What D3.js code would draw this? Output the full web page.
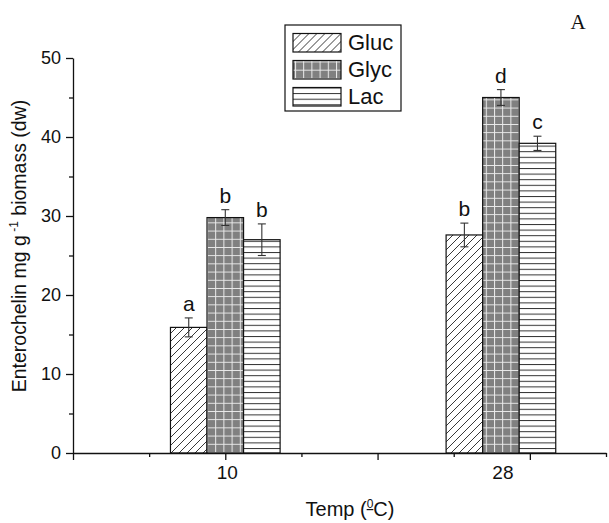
<!DOCTYPE html>
<html>
<head>
<meta charset="utf-8">
<script src="https://cdn.jsdelivr.net/npm/d3@7/dist/d3.min.js"></script>
<style>
  html, body { margin: 0; padding: 0; background: #fff; }
  svg { display: block; font-family: "Liberation Sans", Arial, sans-serif; }
</style>
</head>
<body>
<svg id="chart" width="609" height="523"></svg>
<script>
// ---- data ----
const categories = ["10", "28"];
const seriesNames = ["Gluc", "Glyc", "Lac"];
const glucValues = [15.9, 27.6];
const glycValues = [29.8, 45.0];
const lacValues = [27.0, 39.2];
const glucErrors = [1.2, 1.5];
const glycErrors = [1.0, 1.0];
const lacErrors = [2.0, 0.9];
const glucLetters = ["a", "b"];
const glycLetters = ["b", "d"];
const lacLetters = ["b", "c"];
const yTickValues = [0, 10, 20, 30, 40, 50];
const yMinorTickValues = [5, 15, 25, 35, 45];

// ---- build table ----
const valueSets = [glucValues, glycValues, lacValues];
const errorSets = [glucErrors, glycErrors, lacErrors];
const letterSets = [glucLetters, glycLetters, lacLetters];
const rows = [];
categories.forEach((c, ci) => {
  seriesNames.forEach((s, si) => {
    rows.push({ cat: c, ci, series: s, si, value: valueSets[si][ci], err: errorSets[si][ci], letter: letterSets[si][ci] });
  });
});

const svg = d3.select("#chart");
const FONT = "Liberation Sans, Arial, sans-serif";

// ---- patterns ----
const defs = svg.append("defs");
const pDiag = defs.append("pattern").attr("id", "pat-Gluc").attr("patternUnits", "userSpaceOnUse")
  .attr("width", 8).attr("height", 8);
pDiag.append("rect").attr("width", 8).attr("height", 8).attr("fill", "#fff");
pDiag.append("path").attr("d", "M-2,2 L2,-2 M0,8 L8,0 M6,10 L10,6")
  .attr("stroke", "#222").attr("stroke-width", 0.9).attr("fill", "none");

const pGrid = defs.append("pattern").attr("id", "pat-Glyc").attr("patternUnits", "userSpaceOnUse")
  .attr("width", 8.2).attr("height", 8.2).attr("x", 2).attr("y", 1);
pGrid.append("rect").attr("width", 8.2).attr("height", 8.2).attr("fill", "#808080");
pGrid.append("path").attr("d", "M0.5,0 V8.2 M0,0.5 H8.2")
  .attr("stroke", "#ececec").attr("stroke-width", 1).attr("fill", "none");

const pHor = defs.append("pattern").attr("id", "pat-Lac").attr("patternUnits", "userSpaceOnUse")
  .attr("width", 10).attr("height", 5.6);
pHor.append("rect").attr("width", 10).attr("height", 5.6).attr("fill", "#fff");
pHor.append("path").attr("d", "M0,0.5 H10")
  .attr("stroke", "#333").attr("stroke-width", 1).attr("fill", "none");

// ---- scales ----
const x = d3.scaleLinear().domain([0, 3.5]).range([73, 606]);
const catPos = d3.scaleOrdinal().domain(categories).range([1.0, 2.81]);
const y = d3.scaleLinear().domain([0, 50]).range([453, 58]);
const barW = 0.24;
const sub = d3.scaleBand().domain(seriesNames).range([-1.5 * barW, 1.5 * barW]);

// ---- bars ----
const g = svg.append("g");
g.selectAll("rect.bar").data(rows).join("rect")
  .attr("class", "bar")
  .attr("x", d => x(catPos(d.cat) + sub(d.series)))
  .attr("width", d => x(catPos(d.cat) + sub(d.series) + sub.bandwidth()) - x(catPos(d.cat) + sub(d.series)))
  .attr("y", d => y(d.value))
  .attr("height", d => y(0) - y(d.value))
  .attr("fill", d => `url(#pat-${d.series})`)
  .attr("stroke", "#111").attr("stroke-width", 1.2);

// ---- error bars ----
const cx = d => x(catPos(d.cat) + sub(d.series) + sub.bandwidth() / 2);
const eb = g.selectAll("g.err").data(rows).join("g").attr("class", "err")
  .attr("stroke", "#333").attr("stroke-width", 1.1);
eb.append("line").attr("x1", cx).attr("x2", cx)
  .attr("y1", d => y(d.value + d.err)).attr("y2", d => y(d.value - d.err));
eb.append("line").attr("x1", d => cx(d) - 4).attr("x2", d => cx(d) + 4)
  .attr("y1", d => y(d.value + d.err)).attr("y2", d => y(d.value + d.err));
eb.append("line").attr("x1", d => cx(d) - 4).attr("x2", d => cx(d) + 4)
  .attr("y1", d => y(d.value - d.err)).attr("y2", d => y(d.value - d.err));

// ---- letters ----
g.selectAll("text.letter").data(rows).join("text")
  .attr("class", "letter")
  .attr("x", cx)
  .attr("y", d => y(d.value + d.err) - 7)
  .attr("text-anchor", "middle")
  .attr("font-size", 21)
  .attr("fill", "#111")
  .text(d => d.letter);

// ---- axes ----
const yAxis = svg.append("g").attr("transform", `translate(${x(0)},0)`)
  .call(d3.axisLeft(y).tickValues(yTickValues).tickSize(7).tickSizeOuter(0).tickPadding(5));
svg.append("g").attr("transform", `translate(${x(0)},0)`)
  .call(d3.axisLeft(y).tickValues(yMinorTickValues).tickSize(4).tickSizeOuter(0).tickFormat(""))
  .select(".domain").remove();
yAxis.selectAll("text").attr("font-size", 18).attr("fill", "#111").attr("font-family", FONT);

svg.append("g").attr("transform", `translate(0,${y(0)})`)
  .call(d3.axisBottom(x).tickValues([0, 1, 2, 3]).tickSize(7).tickSizeOuter(0).tickFormat(""));
svg.append("g").attr("transform", `translate(0,${y(0)})`)
  .call(d3.axisBottom(x).tickValues([0.5, 1.5, 2.5, 3.5]).tickSize(4).tickSizeOuter(0).tickFormat(""))
  .select(".domain").remove();
svg.selectAll(".domain, .tick line").attr("stroke", "#111").attr("stroke-width", 1.3);

svg.selectAll("text.xcat").data(categories).join("text")
  .attr("class", "xcat")
  .attr("x", d => x(catPos(d)) + 2)
  .attr("y", 479)
  .attr("text-anchor", "middle")
  .attr("font-size", 19)
  .attr("fill", "#111")
  .text(d => d);

// ---- axis titles ----
const xt = svg.append("text").attr("x", 350).attr("y", 516).attr("text-anchor", "middle")
  .attr("font-size", 20).attr("fill", "#111");
xt.append("tspan").text("Temp (");
xt.append("tspan").attr("dy", -8).attr("font-size", 12).attr("text-decoration", "underline").text("0");
xt.append("tspan").attr("dy", 8).text("C)");

const yt = svg.append("text").attr("transform", "translate(26,246) rotate(-90)")
  .attr("text-anchor", "middle").attr("font-size", 19.5).attr("fill", "#111");
yt.append("tspan").text("Enterochelin mg g");
yt.append("tspan").attr("dy", -8).attr("font-size", 12).text(" -1");
yt.append("tspan").attr("dy", 8).text(" biomass (dw)");

// ---- panel letter ----
svg.append("text").attr("x", 578).attr("y", 29).attr("text-anchor", "middle")
  .attr("font-family", "Liberation Serif, Times New Roman, serif").attr("font-size", 21)
  .attr("fill", "#111").text("A");

// ---- legend ----
const lg = svg.append("g");
lg.append("rect").attr("x", 285).attr("y", 25).attr("width", 116).attr("height", 86)
  .attr("fill", "#fff").attr("stroke", "#111").attr("stroke-width", 1.2);
const li = lg.selectAll("g.li").data(seriesNames).join("g").attr("class", "li")
  .attr("transform", (d, i) => `translate(293,${33.5 + i * 27})`);
li.append("rect").attr("width", 48).attr("height", 18.5)
  .attr("fill", d => `url(#pat-${d})`).attr("stroke", "#111").attr("stroke-width", 1.2);
li.append("text").attr("x", 55).attr("y", 16.5).attr("font-size", 22).attr("fill", "#111").text(d => d);
</script>
</body>
</html>
